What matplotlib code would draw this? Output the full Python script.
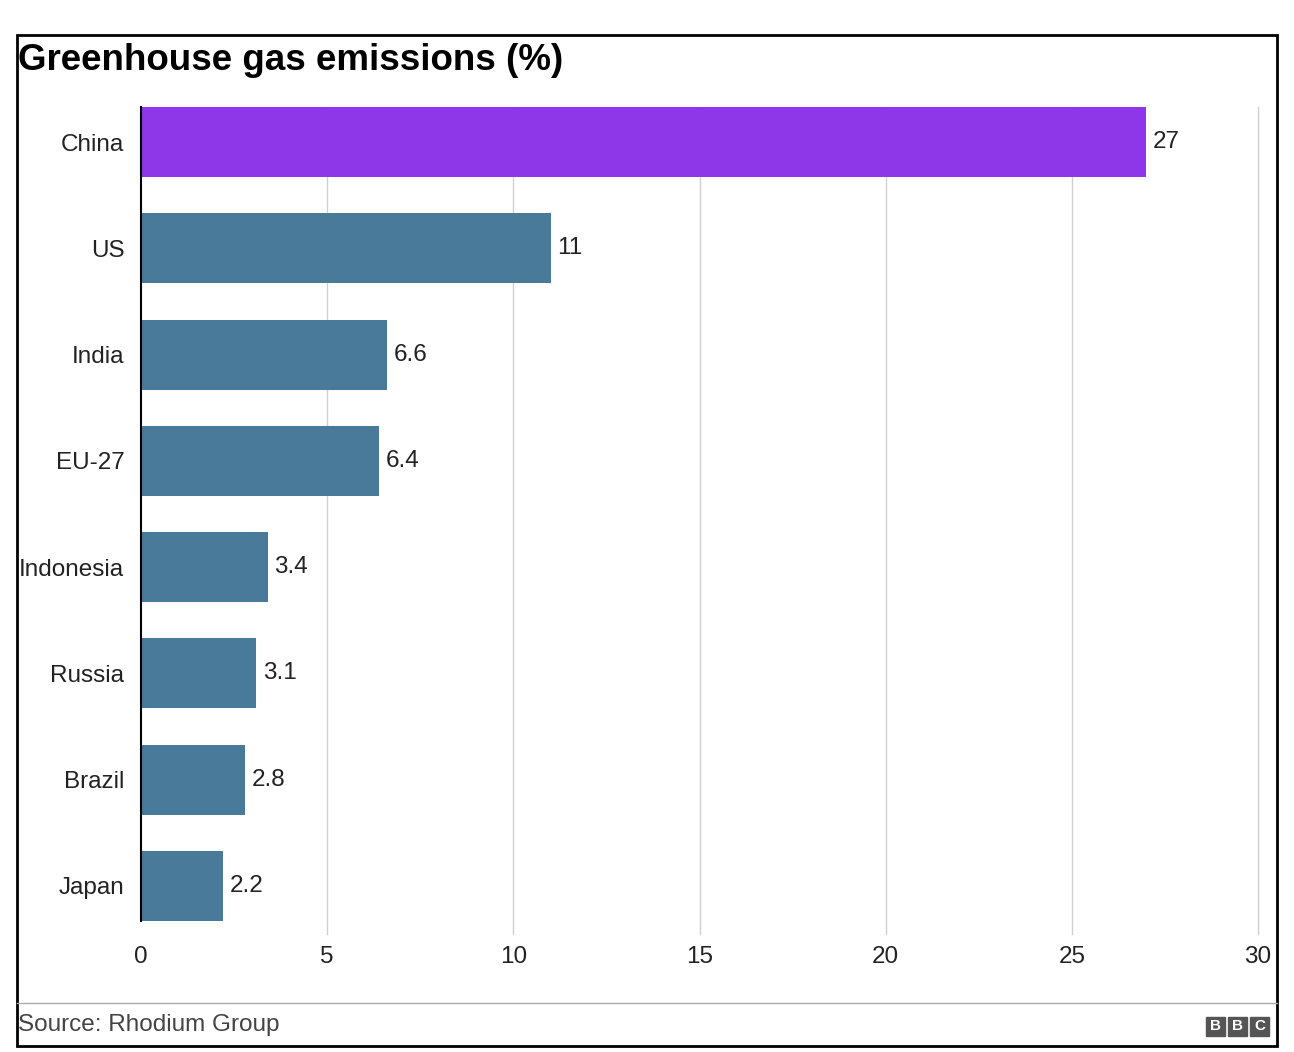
import matplotlib.pyplot as plt
from matplotlib.patches import Rectangle
from matplotlib.lines import Line2D

countries = ["China", "US", "India", "EU-27", "Indonesia", "Russia", "Brazil", "Japan"]
values = [27, 11, 6.6, 6.4, 3.4, 3.1, 2.8, 2.2]
value_labels = ["27", "11", "6.6", "6.4", "3.4", "3.1", "2.8", "2.2"]
xticks = [0, 5, 10, 15, 20, 25, 30]

plt.rcParams["font.family"] = ["Liberation Sans", "DejaVu Sans"]

fig = plt.figure(figsize=(12.94, 10.52), dpi=100)
ax = fig.add_axes([141 / 1294, 1 - 921 / 1052, 1117 / 1294, 814 / 1052])

ys = list(range(len(countries)))[::-1]
colors = ["#8e37e8"] + ["#4a7a99"] * (len(countries) - 1)
ax.barh(ys, values, height=0.66, color=colors, zorder=2)
for y, v, lab in zip(ys, values, value_labels):
    ax.text(v + 0.18, y, lab, va="center", ha="left", fontsize=17.5, color="#222222")

ax.set_xlim(0, 30)
ax.set_ylim(-0.33, 7.33)
ax.set_yticks(ys)
ax.set_yticklabels(countries, fontsize=17.5, color="#222222")
ax.set_xticks(xticks)
ax.set_xticklabels([str(t) for t in xticks], fontsize=17.5, color="#222222")
ax.tick_params(length=0)
ax.tick_params(axis="x", pad=18)
ax.tick_params(axis="y", pad=12)
for s in ["top", "right", "bottom"]:
    ax.spines[s].set_visible(False)
ax.spines["left"].set_color("black")
ax.spines["left"].set_linewidth(1.5)
ax.spines["left"].set_zorder(3)
ax.set_axisbelow(True)
for t in xticks[1:]:
    ax.plot([t, t], [-0.45, 7.33], color="#d0d0d0", lw=1, zorder=0, clip_on=False)

# frame, title, footer
fig.patches.append(Rectangle((17 / 1294, 1 - 1046 / 1052), 1260 / 1294, 1011 / 1052,
                             transform=fig.transFigure, fill=False, ec="black", lw=2))
fig.text(18 / 1294, 1 - 61 / 1052, "Greenhouse gas emissions (%)", fontsize=26.5,
         fontweight="bold", va="center", ha="left")
fig.lines.append(Line2D([17 / 1294, 1277 / 1294], [1 - 1003 / 1052] * 2,
                        transform=fig.transFigure, color="#aaaaaa", lw=1))
fig.text(18 / 1294, 1 - 1025 / 1052, "Source: Rhodium Group", fontsize=17.5,
         color="#444444", va="center", ha="left")
for i, ch in enumerate("BBC"):
    x = (1206 + i * 22) / 1294
    fig.patches.append(Rectangle((x, 1 - 1036 / 1052), 19 / 1294, 19 / 1052,
                                 transform=fig.transFigure, color="#555555"))
    fig.text(x + 9.5 / 1294, 1 - 1026.5 / 1052, ch, color="white", fontsize=11,
             fontweight="bold", ha="center", va="center")

fig.savefig("out.png", dpi=100, facecolor="white")
